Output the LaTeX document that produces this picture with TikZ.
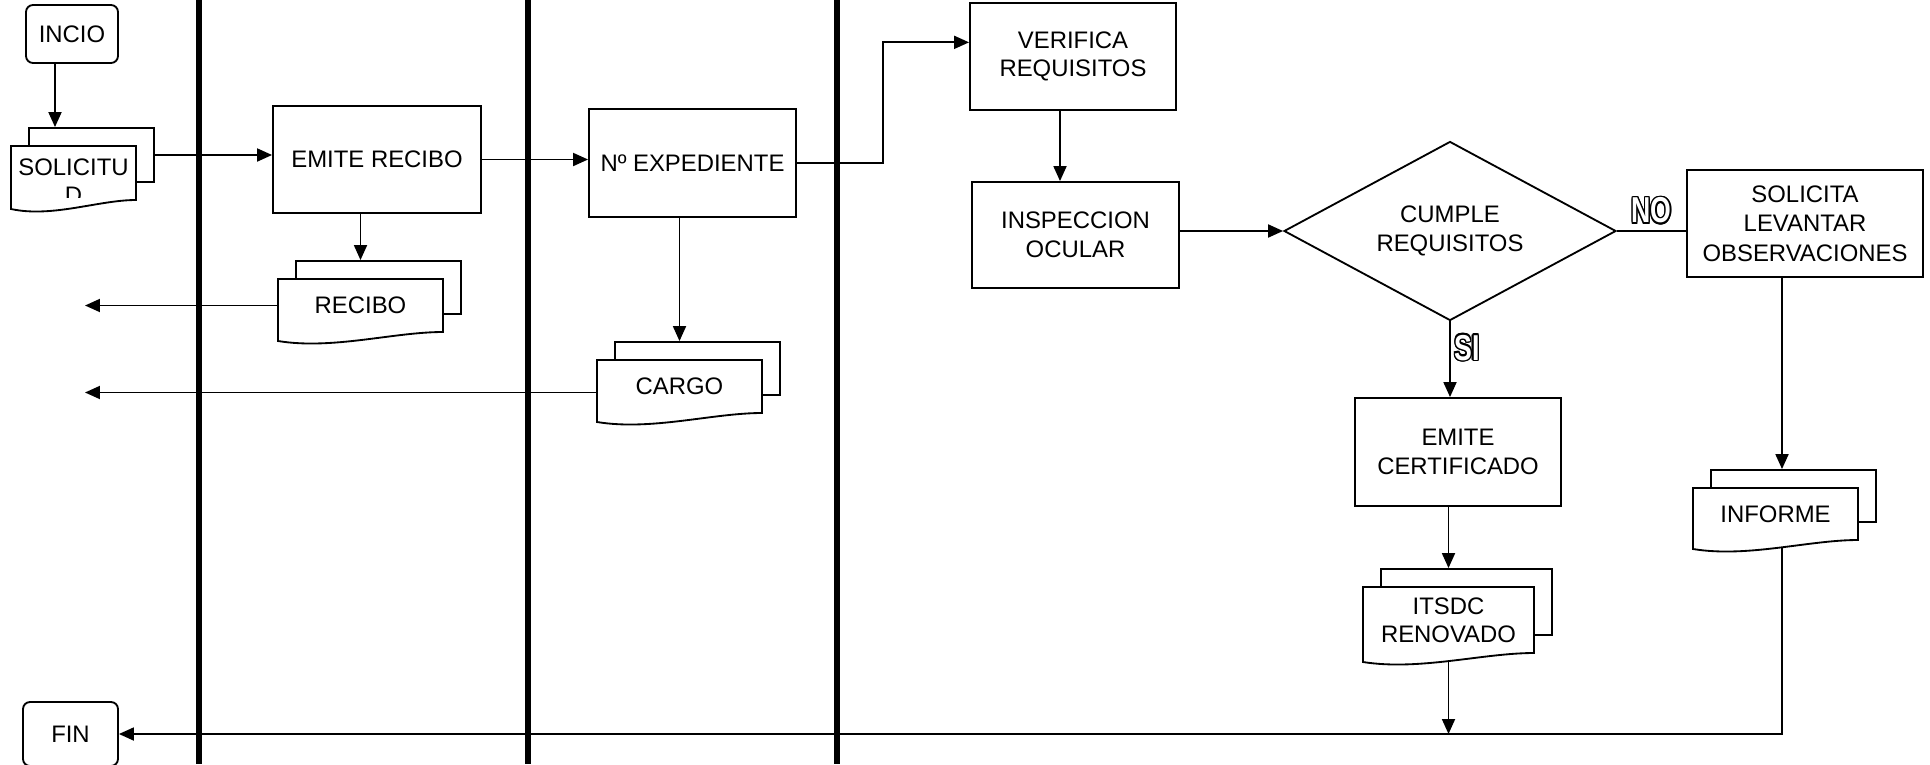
\documentclass[tikz,border=0pt]{standalone}
\usepackage{fontspec}
\setmainfont{Liberation Sans}
\usepackage[copies]{contour}
\usetikzlibrary{arrows.meta, calc, shapes.geometric, math}
\contourlength{1pt}

\tikzset{
  every node/.style={font=\fontsize{13.6}{16.2}\selectfont, align=center, inner sep=0pt},
  box/.style={draw, rectangle, line width=1.05pt, fill=white},
  term/.style={box, rounded corners=4pt},
  docback/.style={draw, rectangle, line width=1.05pt, fill=white},
  link/.style={line width=1.05pt},
  flow/.style={link, -{Triangle[length=0.3cm,width=0.26cm]}},
  lane/.style={line width=3.4pt},
  yesno/.style={font=\fontsize{20.5}{24}\selectfont\bfseries, xscale=0.74}
}

% stacked documents: [text shift]{name}{x}{y}{w}{h}{text}
\newcommand{\docstack}[7][0]{%
  \node[docback, minimum width=#5*0.02cm, minimum height=#6*0.02cm] (#2b) at (#3+18,#4-18) {};
  \draw[link, fill=white] (#3-#5/2,#4-#6/2) -- (#3+#5/2,#4-#6/2) -- (#3+#5/2,#4+#6/2)
    .. controls (#3+0.2*#5,#4+#6/2) and (#3-0.17*#5,#4+#6/2+18) .. (#3-#5/2,#4+#6/2+9) -- cycle;
  \begin{scope}
    \clip (#3-#5/2,#4-#6/2) rectangle (#3+#5/2,#4+#6/2-3);
    \node[minimum width=#5*0.02cm, minimum height=#6*0.02cm] (#2) at (#3,#4) {};
    \node (#2t) at (#3,#4+#1) {#7};
  \end{scope}
}

\begin{document}
\begin{tikzpicture}[x=0.02cm, y=-0.02cm]
\tikzmath{
\laneA=199;
\laneB=528;
\laneC=837;
}
\useasboundingbox (0,0) rectangle (1930,764);

%lanes
\foreach \lx in {\laneA,\laneB,\laneC}
  \draw[lane] (\lx,0) -- (\lx,764);

%start and end
\node[term, minimum width=92*0.02cm, minimum height=58*0.02cm] (inicio) at (72,34) {INCIO};
\node[term, minimum width=95*0.02cm, minimum height=64*0.02cm] (fin) at (70.5,734) {FIN};

%process boxes
\node[box, minimum width=208*0.02cm, minimum height=107*0.02cm] (emite) at (377,159.5) {EMITE RECIBO};
\node[box, minimum width=207*0.02cm, minimum height=108*0.02cm] (nexp) at (692.5,163) {Nº EXPEDIENTE};
\node[box, minimum width=206*0.02cm, minimum height=107*0.02cm] (verifica) at (1073,56.5) {VERIFICA\\REQUISITOS};
\node[box, minimum width=207*0.02cm, minimum height=106*0.02cm] (inspeccion) at (1075.5,235) {INSPECCION\\OCULAR};
\node[draw, diamond, shape aspect=1.85, line width=1.05pt, fill=white, minimum width=332*0.02cm, minimum height=179*0.02cm] (decision) at (1450,231) {CUMPLE\\REQUISITOS};
\node[box, minimum width=236*0.02cm, minimum height=107*0.02cm, font=\fontsize{13.6}{16.8}\selectfont] (solicita) at (1805,223.5) {SOLICITA\\LEVANTAR\\OBSERVACIONES};
\node[box, minimum width=206*0.02cm, minimum height=108*0.02cm] (emitecert) at (1458,452) {EMITE\\CERTIFICADO};

%documents
\docstack[8]{solicitud}{73.5}{173}{125}{54}{SOLICITU\\D}
\docstack{recibo}{360.5}{305.5}{165}{53}{RECIBO}
\docstack{cargo}{679.5}{386.5}{165}{53}{CARGO}
\docstack{informe}{1775.5}{514}{165}{52}{INFORME}
\docstack{itsdc}{1448.5}{620}{171}{66}{ITSDC\\RENOVADO}

%free ends
\coordinate (outA) at (85,307);
\coordinate (outB) at (85,393);
\coordinate (a1) at ($(inicio.south)+(-17,0)$);
\coordinate (vin) at ($(verifica.north west)!0.37!(verifica.south west)$);
\coordinate (bend) at ($(nexp.east)!0.5!(vin)$);
\coordinate (vdown) at ($(verifica.south)+(-13,0)$);
\coordinate (infx) at ($(informe.center)+(6.5,0)$);
\coordinate (infbot) at (infx |- informe.south);
\coordinate (itsbot) at (itsdc.south);

%connectors
\draw[flow] (a1) -- (a1 |- solicitudb.north);
\draw[flow] (solicitudb.east) -- (solicitudb.east -| emite.west);
\draw[flow] (emite.east) -- (emite.east -| nexp.west);
\draw[flow] (recibo |- emite.south) -- (recibo |- recibob.north);
\draw[flow] (recibo.west) -- (recibo.west -| outA);
\draw[flow] (cargo |- nexp.south) -- (cargo |- cargob.north);
\draw[flow] ([yshift=-0.12cm]cargo.west) -- ([yshift=-0.12cm]cargo.west -| outB);
\draw[flow] (nexp.east) -| (bend) |- (vin);
\draw[flow] (vdown) -- (vdown |- inspeccion.north);
\draw[flow] (inspeccion.east |- decision.west) -- (decision.west);
\draw[link] (decision.east) -- (decision.east -| solicita.west)
  node[yesno, midway, above=0.1cm] (no) {{\color{white}\contour{black}{NO}}};
\draw[flow] (decision.south) -- (decision.south |- emitecert.north)
  node[yesno, pos=0.36, right=0.1cm] (si) {{\color{white}\contour{black}{SI}}};
\draw[flow] (infx |- solicita.south) -- (infx |- informeb.north);
\draw[flow] (itsdc |- emitecert.south) -- (itsdc |- itsdcb.north);
\draw[flow] ($(itsbot)+(0,9)$) -- (itsbot |- fin.east);
\draw[flow] ($(infbot)+(0,8)$) |- (fin.east);
\end{tikzpicture}
\end{document}
